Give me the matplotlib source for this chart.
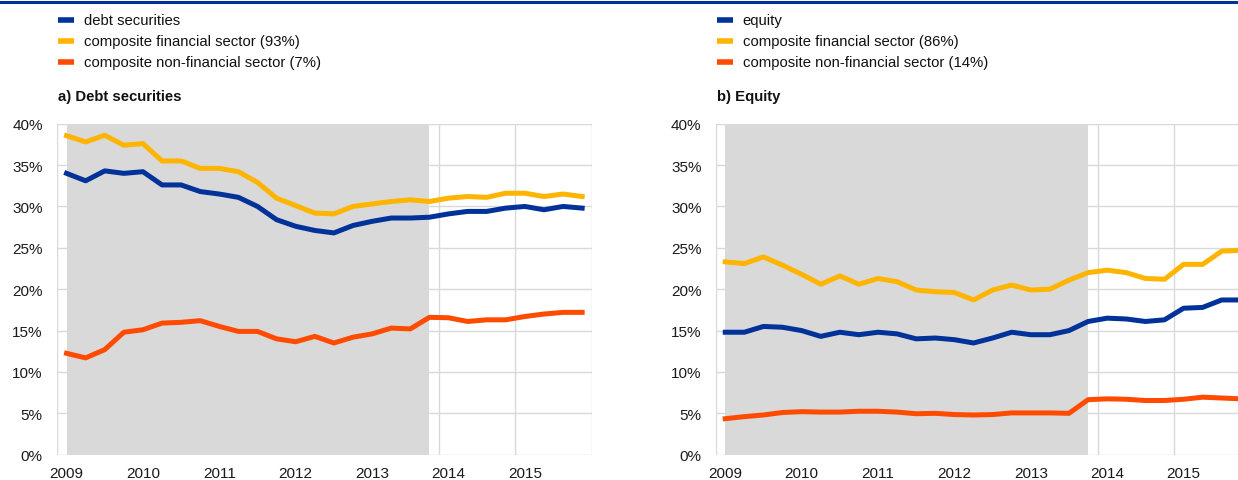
import matplotlib
matplotlib.use("Agg")
from matplotlib import pyplot as plt
from matplotlib.lines import Line2D

plt.rcParams['font.family'] = ['Liberation Sans', 'DejaVu Sans']

# quarters 2009Q1 .. 2015Q4
years = ["2009", "2010", "2011", "2012", "2013", "2014", "2015"]
n_quarters = 28
shade_until = 19   # last quarter of the shaded period (2013Q4)

# a) debt securities (% )
debt_total = [34.0, 33.1, 34.3, 34.0, 34.2, 32.6, 32.6, 31.8, 31.5, 31.1,
              30.0, 28.4, 27.6, 27.1, 26.8, 27.7, 28.2, 28.6, 28.6, 28.7,
              29.1, 29.4, 29.4, 29.8, 30.0, 29.6, 30.0, 29.8]
debt_fin = [38.55, 37.8, 38.6, 37.4, 37.6, 35.5, 35.5, 34.6, 34.6, 34.2,
            32.9, 31.0, 30.1, 29.2, 29.1, 30.0, 30.3, 30.6, 30.8, 30.6,
            31.0, 31.2, 31.1, 31.6, 31.6, 31.2, 31.5, 31.2]
debt_nonfin = [12.25, 11.7, 12.7, 14.8, 15.1, 15.9, 16.0, 16.2, 15.5, 14.9,
               14.9, 14.0, 13.65, 14.3, 13.5, 14.2, 14.6, 15.3, 15.2, 16.6,
               16.55, 16.1, 16.3, 16.3, 16.7, 17.0, 17.2, 17.2]

# b) equity (%)
eq_total = [14.8, 14.8, 15.5, 15.4, 15.0, 14.3, 14.8, 14.5, 14.8, 14.6,
            14.0, 14.1, 13.9, 13.5, 14.1, 14.8, 14.5, 14.5, 15.0, 16.1,
            16.5, 16.4, 16.1, 16.3, 17.7, 17.8, 18.7, 18.7]
eq_fin = [23.3, 23.1, 23.9, 22.9, 21.8, 20.6, 21.6, 20.6, 21.3, 20.9,
          19.9, 19.7, 19.6, 18.7, 19.9, 20.5, 19.9, 20.0, 21.1, 22.0,
          22.3, 22.0, 21.3, 21.2, 23.0, 23.0, 24.6, 24.7]
eq_nonfin = [4.35, 4.6, 4.8, 5.1, 5.2, 5.15, 5.15, 5.25, 5.25, 5.15,
             4.95, 5.0, 4.85, 4.8, 4.85, 5.05, 5.05, 5.05, 5.0, 6.65,
             6.75, 6.7, 6.55, 6.55, 6.7, 6.95, 6.85, 6.75]

BLUE = "#003299"
YELLOW = "#ffb400"
ORANGE = "#ff4b00"
GRID = "#d9d9d9"
SHADE = "#d9d9d9"

W, H = 1238, 481
fig = plt.figure(figsize=(W / 100, H / 100), dpi=100)

# blue rule along the top
fig.add_artist(Line2D([0, 1], [1 - 2.5 / H, 1 - 2.5 / H], color=BLUE, lw=2.2))


def draw_panel(left_px, title, series, labels):
    ax = fig.add_axes([left_px / W, 1 - 455.7 / H, 534.7 / W, 331.0 / H])
    x = list(range(n_quarters))
    ax.fill_between(x[:shade_until + 1], 0, 40, color=SHADE, lw=0, zorder=1)
    for vals, col in zip(series, [BLUE, YELLOW, ORANGE]):
        ax.plot(x, vals, color=col, lw=3.6, zorder=3, solid_joinstyle="round")
    ax.set_xlim(-0.5, n_quarters - 0.5)
    ax.set_ylim(0, 40)
    ax.set_yticks(range(0, 41, 5))
    ax.set_yticklabels([f"{v}%" for v in range(0, 41, 5)])
    ax.set_xticks(range(0, n_quarters, 4))
    ax.set_xticklabels(years)
    ax.set_xticks([i - 0.5 for i in range(0, n_quarters + 1, 4)], minor=True)
    ax.tick_params(axis="both", which="both", length=0, labelsize=11, colors="#1a1a1a")
    ax.tick_params(axis="y", pad=10.2)
    ax.tick_params(axis="x", pad=8.0)
    ax.grid(axis="y", color=GRID, lw=1.0)
    ax.grid(axis="x", which="minor", color=GRID, lw=1.0)
    ax.set_axisbelow(True)
    for s in ax.spines.values():
        s.set_visible(False)

    # legend and title above the panel
    lx = left_px + 1
    for i, (lab, col) in enumerate(zip(labels, [BLUE, YELLOW, ORANGE])):
        y = 1 - (21 + 21 * i) / H
        fig.add_artist(Line2D([lx / W, (lx + 16) / W], [y, y], color=col, lw=4,
                              solid_capstyle="butt"))
        fig.text((lx + 26) / W, y, lab, fontsize=10.7, va="center", ha="left",
                 color="#111111")
    fig.text(lx / W, 1 - 97 / H, title, fontsize=10.7, fontweight="bold",
             va="center", ha="left", color="#111111")
    return ax


draw_panel(57, "a) Debt securities", [debt_total, debt_fin, debt_nonfin],
           ["debt securities", "composite financial sector (93%)",
            "composite non-financial sector (7%)"])
draw_panel(715.7, "b) Equity", [eq_total, eq_fin, eq_nonfin],
           ["equity", "composite financial sector (86%)",
            "composite non-financial sector (14%)"])

fig.savefig("out.png", dpi=100)
